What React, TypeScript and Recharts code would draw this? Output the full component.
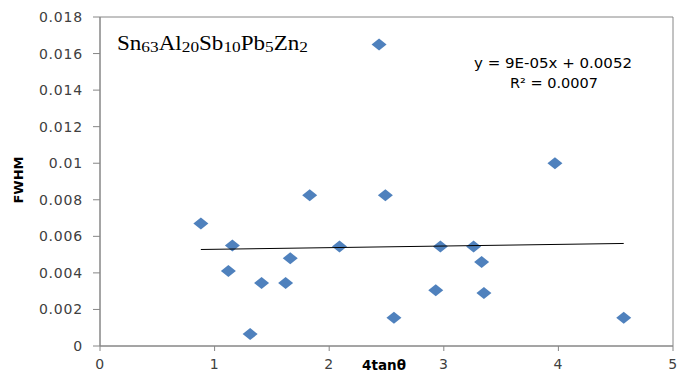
import React from 'react';
import { ScatterChart, Scatter, XAxis, YAxis, ReferenceArea } from 'recharts';

const xValues = [0.88, 1.12, 1.155, 1.31, 1.41, 1.62, 1.66, 1.83, 2.09, 2.435, 2.49, 2.565, 2.93, 2.97, 3.26, 3.33, 3.35, 3.97, 4.57];
const fwhmValues = [0.0067, 0.0041, 0.0055, 0.00065, 0.00345, 0.00345, 0.0048, 0.00825, 0.00545, 0.0165, 0.00825, 0.00155, 0.00305, 0.00545, 0.00545, 0.0046, 0.0029, 0.01, 0.00155];
const trendX = [0.88, 4.57];
const trendY = [0.00528, 0.00561];
const xTicks = [0, 1, 2, 3, 4, 5];
const yTicks = [0, 0.002, 0.004, 0.006, 0.008, 0.01, 0.012, 0.014, 0.016, 0.018];

const points = xValues.map((x, i) => ({ x, y: fwhmValues[i] }));
const trend = trendX.map((x, i) => ({ x, y: trendY[i] }));

const Diamond = (props: any) => {
  const { cx, cy } = props;
  if (cx == null || cy == null) return null;
  const w = 7.5, h = 6;
  return <polygon points={`${cx - w},${cy} ${cx},${cy - h} ${cx + w},${cy} ${cx},${cy + h}`} fill="#4F81BD" />;
};

const tickStyle = { fontFamily: 'DejaVu Sans', fontSize: 14, fill: '#404040', letterSpacing: 0.8 };

export default function App() {
  return (
    <div style={{ position: 'absolute', left: 0, top: 0, width: 678, height: 374, background: '#fff' }}>
      <ScatterChart width={678} height={374} margin={{ top: 17, right: 5, bottom: 0, left: 0 }}>
        <XAxis
          type="number"
          dataKey="x"
          domain={[0, 5]}
          ticks={xTicks}
          interval={0}
          allowDataOverflow
          height={28}
          stroke="#868686"
          tickSize={5}
          tickMargin={8}
          tick={tickStyle}
        />
        <YAxis
          type="number"
          dataKey="y"
          domain={[0, 0.018]}
          ticks={yTicks}
          interval={0}
          allowDataOverflow
          width={100}
          stroke="#868686"
          tickSize={7}
          tickMargin={10}
          tick={tickStyle}
          tickFormatter={(v: number) => String(Number(v.toFixed(3)))}
        />
        <ReferenceArea x1={0} x2={5} y1={0} y2={0.018} fill="none" stroke="#868686" strokeWidth={1} ifOverflow="visible" />
        <Scatter data={points} shape={<Diamond />} isAnimationActive={false} />
        <Scatter data={trend} line={{ stroke: '#000', strokeWidth: 1 }} shape={() => null} isAnimationActive={false} />
        <text x={117} y={50} fontFamily="Liberation Serif" fontSize={20} fill="#000" textLength={191} lengthAdjust="spacingAndGlyphs">
          Sn<tspan fontSize={15} dy={2}>63</tspan><tspan dy={-2}>Al</tspan><tspan fontSize={15} dy={2}>20</tspan><tspan dy={-2}>Sb</tspan><tspan fontSize={15} dy={2}>10</tspan><tspan dy={-2}>Pb</tspan><tspan fontSize={15} dy={2}>5</tspan><tspan dy={-2}>Zn</tspan><tspan fontSize={15} dy={2}>2</tspan>
        </text>
        <text x={474} y={68} fontFamily="DejaVu Sans" fontSize={13.5} fill="#000" textLength={158} lengthAdjust="spacingAndGlyphs">y = 9E-05x + 0.0052</text>
        <text x={510} y={88} fontFamily="DejaVu Sans" fontSize={13.5} fill="#000" textLength={88} lengthAdjust="spacingAndGlyphs">R² = 0.0007</text>
        <text x={18} y={180} transform="rotate(-90 18 180)" textAnchor="middle" dominantBaseline="central" fontFamily="DejaVu Sans" fontWeight="bold" fontSize={13} fill="#000">FWHM</text>
        <text x={384} y={370} textAnchor="middle" fontFamily="DejaVu Sans" fontWeight="bold" fontSize={13.5} fill="#000">4tanθ</text>
      </ScatterChart>
    </div>
  );
}
